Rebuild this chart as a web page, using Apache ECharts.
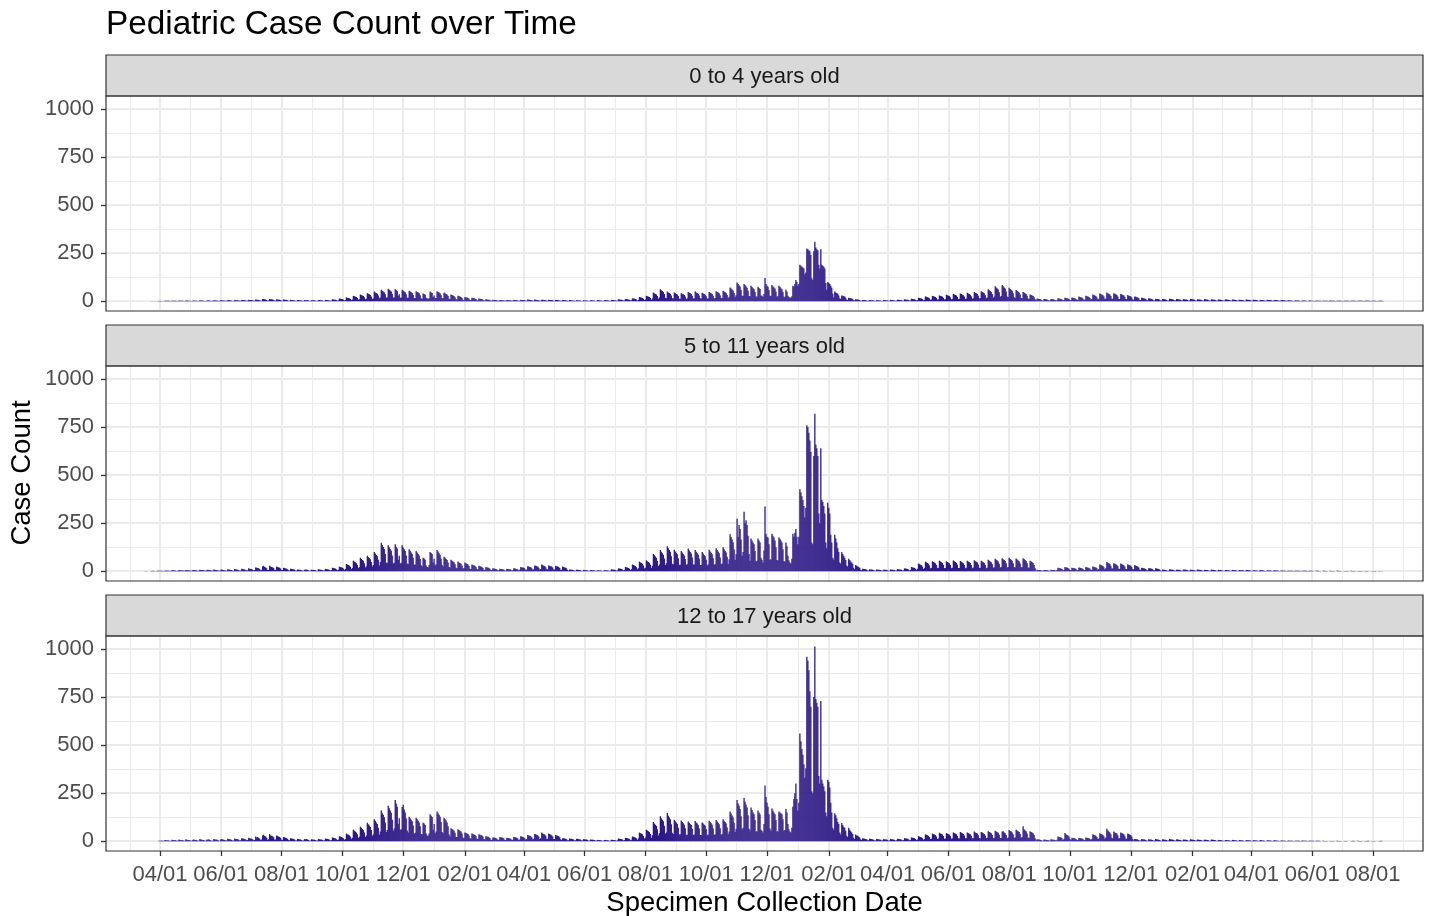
<!DOCTYPE html>
<html><head><meta charset="utf-8">
<script src="https://cdn.jsdelivr.net/npm/echarts@6/dist/echarts.min.js"></script>
<style>html,body{margin:0;padding:0;background:#fff}#c{width:1430px;height:916px}</style>
</head><body><div id="c"></div>
<script>
// ---------------- data ----------------
const startDate = '2020-03-15'; // first day of the daily series (a Sunday)
const chartTitle = 'Pediatric Case Count over Time';
const xTitle = 'Specimen Collection Date';
const yTitle = 'Case Count';
const panelLabels = ['0 to 4 years old', '5 to 11 years old', '12 to 17 years old'];
const tickDates = ['2020-04-01','2020-06-01','2020-08-01','2020-10-01','2020-12-01',
  '2021-02-01','2021-04-01','2021-06-01','2021-08-01','2021-10-01','2021-12-01',
  '2022-02-01','2022-04-01','2022-06-01','2022-08-01','2022-10-01','2022-12-01',
  '2023-02-01','2023-04-01','2023-06-01','2023-08-01'];
const yTicks = [0, 250, 500, 750, 1000];
const yMinor = [125, 375, 625, 875];

// daily case counts, one row = two weeks (Sun..Sat)
const cases0to4 = [
0,0,0,0,0,0,0, 0,0,1,0,0,1,0,
0,1,1,2,1,1,0, 1,3,2,3,2,2,1,
1,3,3,2,3,2,1, 1,4,3,3,3,2,1,
1,4,4,3,3,3,1, 1,3,4,3,3,2,1,
1,5,4,4,3,3,1, 1,4,4,5,3,3,1,
2,5,4,4,4,3,1, 2,6,5,4,4,3,2,
2,5,6,5,4,3,1, 2,6,5,5,5,4,2,
2,7,6,6,5,4,2, 2,8,7,6,6,5,2,
3,9,8,8,7,5,3, 3,11,12,10,9,7,3,
4,12,10,10,9,7,3, 3,10,9,8,8,6,3,
3,9,8,7,7,5,2, 2,7,6,6,5,4,2,
2,6,6,5,5,4,2, 2,6,5,6,5,4,2,
2,5,5,5,4,3,2, 2,6,6,5,5,4,2,
2,7,6,6,5,4,2, 3,10,9,8,8,6,3,
4,14,13,12,11,8,4, 6,20,18,17,15,12,6,
9,28,26,24,22,17,8, 11,35,32,30,27,21,10,
13,42,39,36,33,25,12, 16,50,46,43,39,30,15,
19,60,55,51,47,36,18, 21,65,60,56,51,39,19,
20,62,57,53,28,36,18, 19,60,55,51,47,36,18,
18,55,51,47,43,33,16, 17,52,48,45,41,31,16,
13,40,37,34,18,15,12, 16,50,46,43,22,30,15,
17,52,48,45,41,31,16, 15,45,41,38,35,27,13,
11,35,32,30,27,21,10, 9,28,26,24,22,17,8,
7,22,20,19,17,13,6, 6,18,17,15,14,11,5,
5,14,13,12,11,8,4, 3,10,9,8,8,6,3,
3,8,7,7,6,5,2, 2,7,6,6,5,4,2,
2,6,6,5,5,4,2, 2,7,6,6,5,4,2,
3,8,7,7,6,5,2, 3,9,8,8,7,5,3,
3,9,8,7,7,5,3, 3,8,8,7,6,5,2,
3,8,7,7,6,5,2, 2,7,6,6,5,4,2,
2,6,6,5,5,4,2, 2,6,5,5,4,3,2,
2,5,5,4,4,3,1, 2,5,4,4,4,3,1,
2,5,5,4,4,3,1, 2,6,5,5,4,3,2,
2,6,6,5,5,4,2, 2,7,6,6,5,4,2,
3,10,9,8,8,6,3, 4,12,11,10,9,7,4,
5,15,14,13,12,9,4, 7,22,20,19,17,13,6,
9,28,26,24,22,17,8, 14,45,41,38,35,27,13,
20,62,57,53,48,37,18, 16,50,46,43,39,30,15,
14,45,41,38,35,27,13, 13,42,39,36,33,25,12,
15,48,44,41,37,29,14, 16,50,46,43,39,30,15,
14,44,40,37,34,26,13, 15,48,44,41,37,29,14,
17,52,48,45,41,31,16, 18,55,51,47,43,33,16,
23,72,66,61,56,43,21, 31,97,89,83,76,58,29,
29,90,83,77,70,54,27, 26,80,74,68,62,48,24,
24,75,69,64,30,28,22, 38,121,90,80,75,58,28,
27,85,78,72,66,51,25, 26,80,74,68,62,48,24,
22,60,50,28,22,20,18, 26,80,75,90,110,100,80,
90,190,185,180,175,170,140, 150,275,270,265,260,240,120,
110,260,309,280,270,265,190, 170,270,190,185,180,170,95,
60,100,95,90,80,70,40, 20,50,46,43,39,30,15,
12,30,28,26,24,18,9, 7,18,17,16,14,11,5,
4,10,9,9,8,6,3, 2,7,6,6,5,4,2,
2,6,6,5,5,4,2, 2,6,5,5,4,3,2,
2,6,5,5,5,4,2, 2,7,6,6,5,4,2,
3,8,7,7,6,5,2, 3,10,9,8,8,6,3,
4,13,12,11,10,8,4, 6,18,17,15,14,11,5,
8,25,23,21,19,15,7, 9,28,26,24,22,17,8,
10,30,28,26,24,18,9, 11,34,31,29,27,20,10,
12,38,35,32,30,23,11, 13,40,37,34,31,24,12,
14,44,40,37,34,26,13, 15,48,44,41,37,29,14,
17,52,48,45,41,31,16, 20,62,57,53,48,37,18,
25,78,72,66,61,47,23, 27,85,78,72,66,51,25,
22,70,64,60,55,42,21, 18,58,53,49,45,35,17,
15,48,44,41,37,29,14, 11,35,32,30,27,21,10,
5,14,13,12,11,8,4, 4,12,11,10,9,7,4,
4,12,11,10,9,7,4, 5,15,14,13,12,9,4,
6,18,17,15,14,11,5, 7,20,18,17,16,12,6,
8,24,22,20,19,14,7, 9,28,26,24,22,17,8,
11,35,32,30,27,21,10, 13,40,37,34,31,24,12,
14,45,41,38,35,27,13, 13,42,39,36,33,25,12,
12,38,35,32,30,23,11, 10,32,29,27,25,19,9,
8,25,23,21,19,15,7, 6,18,17,15,14,11,5,
5,15,14,13,12,9,4, 4,13,12,11,10,8,4,
4,12,11,10,9,7,3, 4,13,12,11,10,8,4,
4,12,11,10,9,7,3, 4,11,10,9,9,7,3,
4,12,11,10,9,7,3, 3,10,9,9,8,6,3,
3,11,10,9,8,6,3, 3,10,9,8,8,6,3,
3,9,8,8,7,5,3, 3,10,9,8,8,6,3,
3,9,8,8,7,5,3, 3,8,7,7,6,5,2,
3,9,8,7,7,5,3, 3,8,7,7,6,5,2,
2,7,6,6,5,4,2, 2,8,7,6,6,5,2,
2,7,6,6,5,4,2, 2,6,6,5,5,4,2,
2,5,5,4,4,3,1, 1,5,4,4,4,3,1,
1,4,4,4,3,3,1, 1,4,4,3,3,3,1,
1,4,3,3,3,2,1, 1,3,3,3,3,2,1,
1,4,3,3,3,2,1, 1,3,3,3,2,2,1,
1,3,3,2,2,2,1, 1,3,3,3,2,2,1,
1,3,2,2,2,2,1, 1,3,3,2,2,2,1,
1,2,2,2,2,1,1, 1,3,2,2,2,1,0
];

const cases5to11 = [
0,0,1,0,1,0,0, 0,1,1,2,1,1,0,
1,2,2,3,2,2,1, 1,4,3,4,3,3,1,
2,5,5,4,4,3,1, 2,6,5,5,4,4,2,
2,7,6,5,5,4,2, 2,6,7,6,5,4,2,
3,8,7,6,6,5,2, 2,7,8,6,6,5,2,
3,9,8,7,6,5,3, 3,8,9,7,7,5,3,
3,10,9,8,7,6,3, 3,11,10,9,8,6,3,
4,13,12,10,9,7,4, 5,15,13,12,11,8,4,
6,20,18,17,15,11,5, 8,26,28,22,20,15,7,
8,28,24,22,20,16,7, 7,24,22,20,18,14,6,
6,18,16,15,13,10,5, 4,13,12,11,10,8,4,
3,9,8,8,7,5,3, 3,8,8,9,7,5,2,
3,8,7,7,6,5,2, 3,10,9,8,7,6,3,
4,12,11,10,9,7,4, 6,18,17,15,14,10,5,
8,24,22,20,18,14,7, 12,38,35,32,29,23,11,
17,55,50,46,42,33,16, 22,70,64,59,54,42,20,
26,80,74,68,62,48,24, 32,100,92,85,78,60,30,
48,148,136,126,116,90,44, 44,135,125,116,106,82,40,
44,140,128,118,60,80,40, 44,135,124,114,105,82,40,
38,115,106,98,90,70,34, 35,105,97,90,82,64,31,
25,70,66,60,30,22,20, 32,100,95,90,45,65,30,
36,110,102,94,86,66,32, 25,75,70,64,59,46,22,
20,60,55,51,47,36,18, 16,50,46,43,39,30,15,
15,45,41,38,35,27,13, 12,35,32,30,28,22,11,
9,28,26,24,22,17,8, 7,22,20,19,17,13,6,
5,15,14,13,12,9,4, 5,13,12,11,10,8,4,
4,12,11,10,10,8,4, 5,15,14,13,12,9,4,
8,22,20,19,18,14,7, 9,26,24,22,21,16,8,
10,30,28,26,24,18,9, 11,35,31,29,27,21,10,
10,30,28,26,24,19,9, 9,28,26,24,22,17,8,
8,24,22,20,18,14,7, 3,9,8,8,7,5,3,
3,8,7,7,6,5,2, 2,7,6,6,5,4,2,
2,6,6,5,5,4,2, 2,5,5,4,4,3,1,
2,6,5,5,4,3,2, 3,10,9,8,8,6,3,
5,15,14,13,12,9,4, 7,22,20,19,17,13,6,
11,35,32,30,27,21,10, 16,50,46,43,39,30,15,
18,57,52,48,44,34,17, 29,90,83,77,70,54,27,
35,110,101,94,86,66,33, 42,130,120,111,101,78,39,
36,112,103,96,88,68,34, 34,105,97,90,82,63,32,
38,118,108,100,92,71,35, 35,110,101,94,86,66,33,
32,100,92,85,78,60,30, 36,112,103,96,88,68,34,
38,120,110,102,94,72,36, 40,125,115,107,98,75,38,
62,192,178,165,150,115,58, 88,273,178,240,220,165,80,
100,310,250,265,240,185,90, 55,170,160,150,140,105,52,
55,170,160,150,70,60,45, 108,337,195,180,175,140,60,
62,195,185,175,160,125,58, 56,175,168,160,150,115,52,
50,150,130,80,57,45,40, 65,195,180,200,220,180,140,
180,427,410,390,370,340,280, 330,760,750,720,680,620,150,
140,600,820,660,640,600,300, 250,640,370,360,340,300,150,
120,356,330,300,190,150,70, 60,190,170,150,120,100,45,
40,100,90,80,70,58,30, 25,65,58,50,45,38,18,
12,32,28,25,22,18,8, 5,13,12,11,10,8,4,
4,10,9,9,8,6,3, 3,9,8,8,7,6,3,
3,8,8,7,7,5,3, 3,9,8,8,7,6,3,
4,11,10,9,9,7,3, 5,15,14,13,12,9,4,
7,22,20,19,17,13,6, 13,40,37,34,31,24,12,
16,50,46,43,39,30,15, 17,52,48,45,41,32,16,
18,55,51,47,43,33,16, 17,52,48,45,41,32,16,
18,56,52,48,44,34,17, 17,53,49,45,42,32,16,
18,55,51,47,43,33,16, 19,57,52,49,45,35,17,
18,55,51,47,43,33,16, 20,60,55,51,47,36,18,
21,65,60,56,51,39,19, 22,68,62,58,53,41,20,
22,70,64,60,55,42,21, 21,66,61,56,52,40,20,
22,68,63,58,53,41,20, 18,55,50,47,43,33,16,
3,8,7,7,6,5,2, 2,7,6,6,5,4,2,
3,8,7,7,6,5,2, 6,18,16,15,14,11,5,
7,22,20,19,17,13,6, 6,18,17,16,15,11,5,
6,20,18,17,16,12,6, 7,22,20,19,17,13,6,
8,25,23,21,19,15,7, 11,35,32,30,27,21,10,
16,48,44,41,38,29,14, 14,42,39,36,33,26,12,
13,40,37,34,31,24,12, 12,36,33,31,28,22,11,
10,32,29,27,25,19,9, 6,18,17,16,14,11,5,
5,16,15,14,13,10,5, 5,15,14,13,12,9,4,
3,9,8,8,7,5,3, 3,10,9,8,8,6,3,
3,8,8,7,7,5,2, 3,9,8,8,7,5,3,
3,8,7,7,6,5,2, 3,9,8,7,7,5,3,
2,7,7,6,6,4,2, 3,8,7,7,6,5,2,
2,7,6,6,5,4,2, 2,6,6,5,5,4,2,
2,7,6,6,5,4,2, 2,6,5,5,5,4,2,
2,6,6,5,5,4,2, 2,5,5,4,4,3,1,
2,6,5,5,4,3,1, 1,5,4,4,4,3,1,
2,5,4,4,4,3,1, 1,4,4,3,3,3,1,
1,3,3,3,2,2,1, 1,3,2,2,2,2,1,
1,3,3,2,2,2,1, 1,2,2,2,2,1,0,
0,2,2,2,1,1,0, 0,2,2,1,1,1,0,
0,2,1,1,1,1,0, 0,2,2,1,1,1,0,
0,1,1,1,1,1,0, 0,2,1,1,1,1,0,
0,1,1,1,1,1,0, 0,1,1,1,1,0,0,
0,1,1,1,1,1,0, 0,1,1,0,1,0,0
];

const cases12to17 = [
0,0,0,0,0,0,0, 0,0,0,0,0,0,0,
0,0,2,3,2,4,1, 2,6,5,4,5,3,2,
1,8,6,5,6,4,2, 2,9,7,6,5,5,2,
3,10,8,7,6,5,3, 2,8,9,6,7,5,2,
3,11,9,8,7,6,3, 2,9,8,10,7,5,3,
3,12,10,8,9,6,3, 3,10,11,9,8,7,4,
4,13,12,10,9,7,3, 4,14,11,12,10,8,4,
5,16,14,13,11,9,5, 6,18,16,14,13,10,5,
7,24,20,22,17,14,6, 9,30,34,27,24,18,8,
10,38,30,28,26,20,9, 9,30,27,24,22,17,8,
7,22,20,18,16,12,6, 5,16,14,13,12,9,4,
4,12,11,10,9,7,3, 4,11,10,12,9,7,3,
3,10,9,8,8,6,3, 4,12,10,9,9,7,3,
5,14,13,12,11,8,4, 6,20,18,16,15,11,6,
8,26,24,22,19,15,8, 12,40,36,34,30,24,12,
18,60,55,50,45,36,17, 24,76,70,64,58,45,22,
30,96,88,82,74,58,28, 36,115,106,98,90,70,34,
50,160,145,138,125,98,48, 58,185,172,160,148,112,55,
66,215,196,180,90,120,60, 62,178,190,165,150,118,56,
45,128,120,112,104,82,40, 44,122,114,106,98,78,38,
36,96,92,84,40,30,28, 40,140,132,126,60,90,42,
50,155,146,138,128,100,48, 42,122,114,108,98,78,36,
24,68,64,60,55,44,22, 22,62,58,54,50,40,20,
16,46,43,40,37,30,15, 14,40,38,35,33,27,13,
12,36,34,32,30,24,11, 9,26,24,23,21,17,8,
7,20,19,18,16,13,6, 8,22,20,19,18,14,7,
7,18,17,16,15,12,6, 8,22,21,19,18,14,7,
9,26,24,22,20,16,8, 11,32,30,28,26,21,10,
13,38,36,33,31,25,12, 15,45,40,38,35,28,13,
13,40,37,34,31,25,12, 11,33,30,28,26,21,10,
6,16,15,14,13,10,5, 5,14,13,12,11,9,4,
5,13,12,11,10,8,4, 4,11,10,9,9,7,3,
3,9,8,8,7,6,3, 3,7,6,6,5,4,2,
3,6,7,5,5,4,2, 3,8,7,6,6,5,2,
5,14,13,12,11,9,4, 6,18,17,15,14,11,5,
8,25,23,21,19,15,7, 15,45,42,39,36,28,14,
20,60,56,52,48,38,18, 32,100,92,86,80,62,30,
42,130,120,112,104,80,40, 46,147,132,124,114,88,44,
38,112,104,98,90,70,35, 36,108,100,94,86,68,34,
34,102,96,90,84,65,32, 35,105,98,92,85,66,33,
33,98,92,86,80,62,31, 35,106,100,94,86,66,33,
36,110,102,96,88,68,34, 38,115,106,100,92,72,36,
50,155,144,134,124,96,48, 65,215,196,184,168,130,62,
70,225,205,190,175,135,65, 56,175,162,150,140,110,52,
50,160,150,140,60,55,45, 90,290,230,200,180,140,66,
55,170,160,150,140,110,52, 50,155,150,145,140,115,55,
58,168,150,90,62,50,45, 70,180,220,250,300,220,160,
200,560,520,480,450,400,330, 380,960,940,890,780,700,260,
250,750,1013,740,720,700,340, 300,730,320,300,285,260,150,
130,320,310,280,200,150,70, 60,145,135,120,100,90,45,
35,95,85,75,70,55,28, 22,70,60,52,45,38,18,
12,35,30,28,25,20,10, 6,16,14,13,12,10,5,
5,13,12,11,10,8,4, 4,12,11,10,9,8,4,
4,11,10,9,9,7,3, 4,12,10,10,9,7,3,
5,13,12,11,10,8,4, 6,16,15,14,13,10,5,
7,20,18,17,16,12,6, 9,26,24,22,20,16,8,
12,36,33,31,28,22,11, 13,40,37,35,32,25,12,
14,44,40,38,35,27,13, 14,42,39,37,34,27,13,
15,46,42,40,36,28,14, 16,48,44,41,38,30,15,
15,45,42,39,36,28,14, 17,50,46,43,40,31,15,
16,48,45,42,38,30,15, 18,52,48,45,42,33,16,
18,55,50,47,44,34,17, 17,50,52,46,42,33,16,
19,58,53,50,46,36,18, 20,60,55,52,48,37,18,
22,78,62,56,52,40,20, 17,52,48,45,42,32,16,
4,10,9,9,8,6,3, 3,9,8,8,7,6,3,
4,10,9,8,8,6,3, 8,25,22,21,20,15,7,
12,43,36,33,30,24,11, 6,18,17,16,15,12,6,
6,17,16,15,14,11,5, 7,20,18,17,16,12,6,
12,36,33,31,28,22,11, 14,42,38,36,33,26,13,
20,65,56,50,46,36,18, 16,50,46,43,40,31,15,
15,46,42,40,36,28,14, 13,40,37,34,32,25,12,
4,12,11,10,9,7,3, 4,11,10,9,9,7,3,
3,10,9,9,8,6,3, 4,11,10,9,8,6,3,
3,10,9,8,8,6,3, 4,12,10,9,8,7,3,
3,10,9,8,7,6,3, 3,9,8,8,7,5,2,
3,10,9,8,7,6,3, 3,9,8,7,7,5,2,
3,8,8,7,6,5,2, 3,9,8,7,6,5,2,
2,7,6,6,5,4,2, 2,6,6,5,5,4,2,
2,7,6,5,5,4,2, 2,6,5,5,4,3,1,
2,6,5,5,4,4,2, 2,5,5,4,4,3,1,
2,6,5,4,4,3,1, 1,5,4,4,4,3,1,
2,5,4,4,3,3,1, 1,4,4,3,3,2,1,
1,4,3,3,3,2,1, 1,3,3,3,2,2,1,
1,4,3,3,2,2,1, 1,3,3,2,2,2,1,
0,2,2,2,2,1,0, 0,2,1,1,1,1,0,
0,1,1,1,1,1,0, 0,2,1,1,1,1,0,
0,1,1,1,1,0,0, 0,1,1,2,1,1,0,
0,2,1,1,1,1,0, 0,1,1,1,2,1,0,
0,1,1,1,1,0,0, 0,1,1,2,1,0,0
];
const panelData = [cases0to4, cases5to11, cases12to17];

// ---------------- layout ----------------
const FONT = '"Liberation Sans", Arial, sans-serif';
const BAR_COLOR = '#2E1A86';
const X_MIN = -37.2, X_MAX = 1284.2;        // visible day range (panel expansion)
const Y_MIN = -50.85, Y_MAX = 1067.85;      // ggplot-style 5% expansion
const PLOT_LEFT = 106, PLOT_W = 1317, PLOT_H = 215, STRIP_H = 41;
const PANEL_TOP0 = 96, PANEL_STEP = 270;

const DAY = 86400000;
function parse(s){ const p = s.split('-').map(Number); return Date.UTC(p[0], p[1]-1, p[2]); }
const startMs = parse(startDate);
const dayIndex = s => (parse(s) - startMs) / DAY;
const tickDays = tickDates.map(dayIndex);
// extend breaks one step each side for minor (midpoint) gridlines
const extBreaks = [dayIndex('2020-02-01')].concat(tickDays, [dayIndex('2023-10-01')]);
const minorDays = [];
for (let i = 0; i + 1 < extBreaks.length; i++) {
  const m = (extBreaks[i] + extBreaks[i+1]) / 2;
  if (m > X_MIN && m < X_MAX) minorDays.push(m);
}
function fmt(v){
  const d = new Date(startMs + Math.round(v) * DAY);
  const mm = String(d.getUTCMonth()+1).padStart(2,'0');
  const dd = String(d.getUTCDate()).padStart(2,'0');
  return mm + '/' + dd;
}

const grids = [], xAxes = [], yAxes = [], series = [], graphics = [];
const gridMinor = {color:'#EBEBEB', width:1, type:'solid'};
const gridMajor = {color:'#EBEBEB', width:2, type:'solid'};

for (let i = 0; i < 3; i++) {
  const top = PANEL_TOP0 + PANEL_STEP * i;
  grids.push({left: PLOT_LEFT, top: top, width: PLOT_W, height: PLOT_H, show: false, containLabel: false});
  const bottom = i === 2;
  xAxes.push({
    type: 'value', gridIndex: i, min: X_MIN, max: X_MAX, position: 'bottom',
    axisLine: {show: false, onZero: false},
    splitLine: {show: false},
    axisTick: bottom ? {show: true, customValues: tickDays, length: 5, lineStyle: {color: '#333333', width: 1.3}} : {show: false},
    axisLabel: bottom ? {show: true, customValues: tickDays, formatter: fmt, color: '#4D4D4D', fontSize: 22, fontFamily: FONT, margin: 13} : {show: false}
  });
  yAxes.push({
    type: 'value', gridIndex: i, min: Y_MIN, max: Y_MAX, position: 'left',
    axisLine: {show: false, onZero: false},
    splitLine: {show: false},
    axisTick: {show: true, customValues: yTicks, length: 5, lineStyle: {color: '#333333', width: 1.3}},
    axisLabel: {show: true, customValues: yTicks, formatter: v => String(v), color: '#4D4D4D', fontSize: 22, fontFamily: FONT, margin: 12, padding: [3, 0, 0, 0]}
  });
  const ml = [];
  yMinor.forEach(v => ml.push({yAxis: v, lineStyle: gridMinor}));
  minorDays.forEach(v => ml.push({xAxis: v, lineStyle: gridMinor}));
  yTicks.forEach(v => ml.push({yAxis: v, lineStyle: gridMajor}));
  tickDays.forEach(v => ml.push({xAxis: v, lineStyle: gridMajor}));
  series.push({
    type: 'line', xAxisIndex: i, yAxisIndex: i, data: [[0, 0]], symbol: 'none',
    lineStyle: {opacity: 0}, silent: true, z: 1, animation: false,
    markLine: {silent: true, z: 1, symbol: ['none','none'], label: {show: false},
      emphasis: {disabled: true}, animation: false, data: ml}
  });
  series.push({
    type: 'bar', xAxisIndex: i, yAxisIndex: i, z: 20, barWidth: 1.3,
    itemStyle: {color: BAR_COLOR}, animation: false, silent: true,
    data: panelData[i].map((v, k) => [k, v])
  });
  // strip
  const stripTop = top - STRIP_H;
  graphics.push({type: 'rect', z: 50, shape: {x: PLOT_LEFT, y: stripTop, width: PLOT_W, height: STRIP_H},
    style: {fill: '#D9D9D9', stroke: '#333333', lineWidth: 1.2}});
  graphics.push({type: 'text', z: 51, x: PLOT_LEFT + PLOT_W / 2, y: stripTop + STRIP_H / 2 + 1,
    style: {text: panelLabels[i], fill: '#1A1A1A', font: '22px ' + FONT, align: 'center', verticalAlign: 'middle'}});
  // panel border
  graphics.push({type: 'rect', z: 50, shape: {x: PLOT_LEFT, y: top, width: PLOT_W, height: PLOT_H},
    style: {fill: 'none', stroke: '#333333', lineWidth: 1.2}});
}
graphics.push({type: 'text', z: 51, x: PLOT_LEFT, y: 25,
  style: {text: chartTitle, fill: '#000000', font: '33.3px ' + FONT, align: 'left', verticalAlign: 'middle'}});
graphics.push({type: 'text', z: 51, x: PLOT_LEFT + PLOT_W / 2, y: 903,
  style: {text: xTitle, fill: '#000000', font: '27.5px ' + FONT, align: 'center', verticalAlign: 'middle'}});
graphics.push({type: 'text', z: 51, x: 22, y: 473, rotation: Math.PI / 2,
  style: {text: yTitle, fill: '#000000', font: '27.5px ' + FONT, align: 'center', verticalAlign: 'middle'}});

const chart = echarts.init(document.getElementById('c'), null, {renderer: 'canvas'});
chart.setOption({
  animation: false,
  backgroundColor: '#FFFFFF',
  grid: grids, xAxis: xAxes, yAxis: yAxes, series: series,
  graphic: {elements: graphics}
});
</script>
</body></html>
